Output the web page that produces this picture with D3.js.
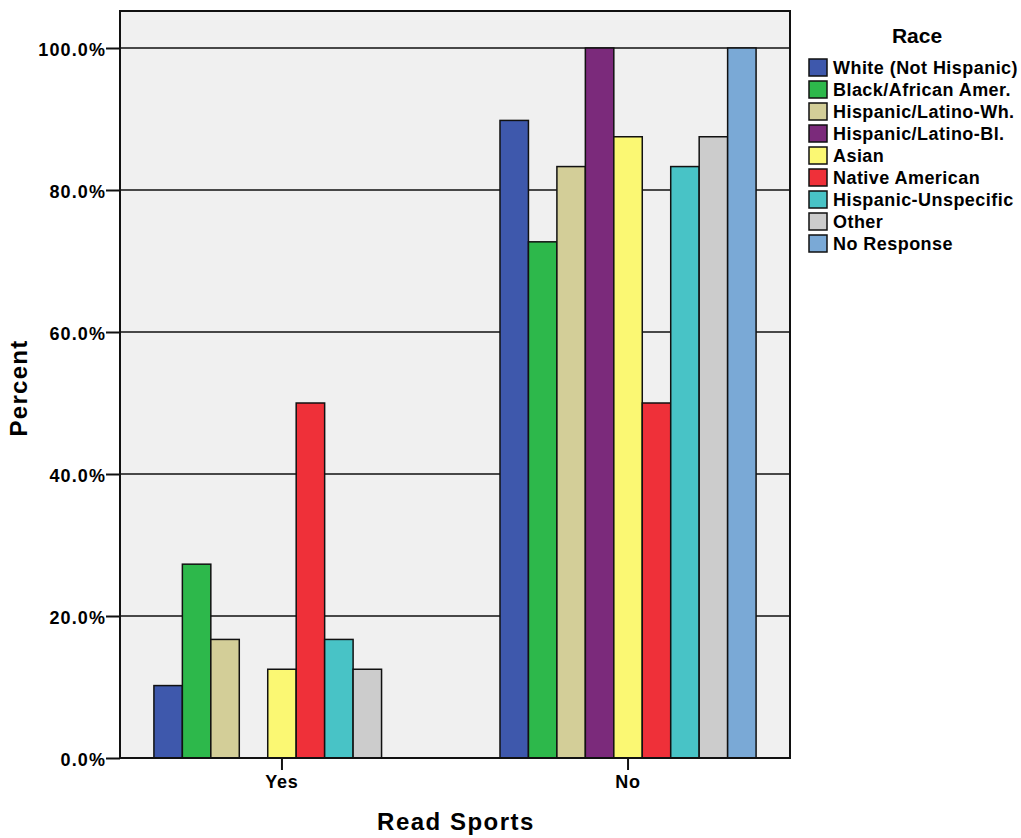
<!DOCTYPE html>
<html><head><meta charset="utf-8">
<script src="https://cdn.jsdelivr.net/npm/d3@7/dist/d3.min.js"></script>
<style>
body{margin:0;background:#fff;}
text{font-family:"Liberation Sans",Arial,Helvetica,sans-serif;font-weight:bold;fill:#000;}
</style></head>
<body>
<svg id="c" width="1021" height="838"></svg>
<script>
const categories = ["Yes", "No"];
const races = ["White (Not Hispanic)", "Black/African Amer.", "Hispanic/Latino-Wh.", "Hispanic/Latino-Bl.", "Asian", "Native American", "Hispanic-Unspecific", "Other", "No Response"];
const colors = ["#3e58ac", "#2db84b", "#d3ce98", "#7b2a7b", "#fbf873", "#ef3039", "#48c3c6", "#cccccc", "#7aa9d6"];
const valuesYes = [10.2, 27.3, 16.7, 0, 12.5, 50.0, 16.7, 12.5, 0];
const valuesNo  = [89.8, 72.7, 83.3, 100.0, 87.5, 50.0, 83.3, 87.5, 100.0];
const yTicks = [0, 20, 40, 60, 80, 100];
const series = [valuesYes, valuesNo];

const svg = d3.select("#c");
const L = 120, R = 790, T = 11, B = 758;

const x = d3.scaleBand().domain(categories).range([L, R]).paddingInner(0.26).paddingOuter(0.098);
const xi = d3.scaleBand().domain(races).range([0, x.bandwidth()]);
const y = d3.scaleLinear().domain([0, 100]).range([B, 48]);

svg.append("rect").attr("x", L).attr("y", T).attr("width", R - L).attr("height", B - T).attr("fill", "#f0f0f0");

// gridlines
svg.append("g").selectAll("line").data(yTicks.filter(d => d > 0)).join("line")
  .attr("x1", L).attr("x2", R).attr("y1", d => y(d)).attr("y2", d => y(d))
  .attr("stroke", "#111").attr("stroke-width", 1.5);

// bars
categories.forEach((c, ci) => {
  svg.append("g").selectAll("rect").data(series[ci].map((v, i) => ({v, i}))).join("rect")
    .filter(d => d.v > 0)
    .attr("x", d => x(c) + xi(races[d.i]))
    .attr("y", d => y(d.v))
    .attr("width", xi.bandwidth())
    .attr("height", d => B - y(d.v))
    .attr("fill", d => colors[d.i])
    .attr("stroke", "#111").attr("stroke-width", 1.5);
});

// border
svg.append("rect").attr("x", L).attr("y", T).attr("width", R - L).attr("height", B - T)
  .attr("fill", "none").attr("stroke", "#111").attr("stroke-width", 2);

// y axis
const yAxis = d3.axisLeft(y).tickValues(yTicks).tickSize(14).tickPadding(0).tickFormat(d => d.toFixed(1) + "%");
const gy = svg.append("g").attr("transform", `translate(${L},0)`).call(yAxis);
gy.select(".domain").remove();
gy.selectAll(".tick line").attr("stroke", "#111").attr("stroke-width", 2);
gy.selectAll(".tick text").style("font-size", "18px").style("letter-spacing", "1.1px").attr("dy", "0.4em").attr("fill", "#000");

// x axis
const xAxis = d3.axisBottom(x).tickSize(12).tickPadding(5);
const gx = svg.append("g").attr("transform", `translate(0,${B})`).call(xAxis);
gx.select(".domain").remove();
gx.selectAll(".tick line").attr("stroke", "#111").attr("stroke-width", 2);
gx.selectAll(".tick text").style("font-size", "18px").style("letter-spacing", "0.8px").attr("fill", "#000");
svg.append("line").attr("x1", L).attr("x2", R).attr("y1", B).attr("y2", B).attr("stroke", "#111").attr("stroke-width", 2);

// axis titles
svg.append("text").attr("x", 456).attr("y", 830).attr("text-anchor", "middle").style("font-size", "24px").style("letter-spacing", "1.5px").text("Read Sports");
svg.append("text").attr("transform", "translate(27,388) rotate(-90)").attr("text-anchor", "middle").style("font-size", "24px").style("letter-spacing", "1.3px").text("Percent");

// legend
svg.append("text").attr("x", 917).attr("y", 43).attr("text-anchor", "middle").style("font-size", "21px").text("Race");
const lg = svg.append("g").selectAll("g").data(races).join("g")
  .attr("transform", (d, i) => `translate(809,${59 + i * 22})`);
lg.append("rect").attr("width", 18).attr("height", 17).attr("fill", (d, i) => colors[i]).attr("stroke", "#111").attr("stroke-width", 1.5);
lg.append("text").attr("x", 24).attr("y", 15).style("font-size", "18px").style("letter-spacing", "0.45px").text(d => d);
</script>
</body></html>
